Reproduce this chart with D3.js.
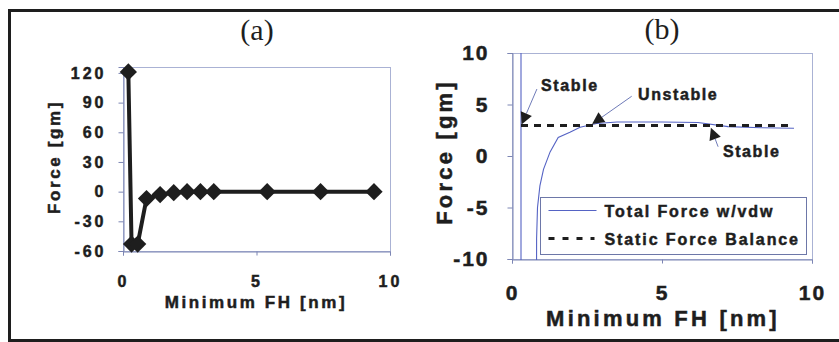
<!DOCTYPE html>
<html>
<head>
<meta charset="utf-8">
<script src="https://cdn.jsdelivr.net/npm/d3@7"></script>
<style>
  body { margin: 0; background: #fff; }
  svg { display: block; }
</style>
</head>
<body>
<div id="chart"></div>
<script>
// ---- panel (a): force vs minimum flying height, with markers
const aX = [0.2, 0.32, 0.55, 0.88, 1.39, 1.9, 2.4, 2.9, 3.4, 5.4, 7.4, 9.4];
const aY = [121, -53, -53, -7, -3, -1, 0, 0, 0, 0, 0, 0];
const aYTicks = [120, 90, 60, 30, 0, -30, -60];
const aXTicks = [0, 5, 10];

// ---- panel (b): total force with vdw and static force balance
const bTotalX = [0.3, 0.3, 0.8, 0.82, 0.85, 0.93, 1.05, 1.27, 1.54, 1.93, 2.27, 2.82, 3.5, 5.0, 6.2, 7.2, 8.3, 9.4];
const bTotalY = [40, -40, -40, -8, -5, -2.9, -1.3, 0.4, 1.8, 2.3, 2.8, 3.15, 3.3, 3.3, 3.25, 2.85, 2.75, 2.7];
const bStaticX = [0.3, 9.4];
const bStaticY = [2.95, 2.95];
const bYTicks = [10, 5, 0, -5, -10];
const bXTicks = [0, 5, 10];

// annotation labels: text anchor, leader start and arrow tip in data units
const notes = [
  { text: "Stable",   tx: 0.97, ty: 6.35, lx: 0.83, ly: 6.5, ax: 0.32, ay: 3.05 },
  { text: "Unstable", tx: 4.2,  ty: 5.45, lx: 3.99, ly: 5.8, ax: 2.67, ay: 3.1 },
  { text: "Stable",   tx: 7.03, ty: -0.1, lx: 6.87, ly: 0.9, ax: 6.63, ay: 2.75 }
];

const legendItems = ["Total Force w/vdw", "Static Force Balance"];

const W = 839, H = 342;
const FONT = '"Liberation Sans", Arial, sans-serif';
const AXIS = "#7d86b4";
const BORDER = "#aab2d4";
const INK = "#1e1e1e";

const svg = d3.select("#chart").append("svg")
  .attr("width", W).attr("height", H);

// outer frame (left, top, bottom)
const frame = svg.append("g").attr("stroke", INK).attr("stroke-width", 3);
frame.append("line").attr("x1", 9.5).attr("x2", 9.5).attr("y1", 9).attr("y2", 341);
frame.append("line").attr("x1", 8).attr("x2", W).attr("y1", 10.5).attr("y2", 10.5);
frame.append("line").attr("x1", 8).attr("x2", W).attr("y1", 340.5).attr("y2", 340.5);

// bold, slightly heavy text like the scanned figure
function heavy(sel, size, spacing) {
  return sel.style("font-family", FONT).style("font-weight", "bold")
    .style("font-size", size + "px").style("letter-spacing", spacing + "px")
    .attr("fill", INK).attr("stroke", INK).attr("stroke-width", 0.5);
}

function drawPanel(cfg) {
  const g = svg.append("g");
  const x = d3.scaleLinear().domain(cfg.xDomain).range([cfg.left, cfg.right]);
  const y = d3.scaleLinear().domain(cfg.yDomain).range([cfg.bottom, cfg.top]);

  // plot area border
  g.append("rect")
    .attr("x", cfg.left + 0.5).attr("y", cfg.top + 0.5)
    .attr("width", cfg.right - cfg.left).attr("height", cfg.bottom - cfg.top)
    .attr("fill", "none").attr("stroke", BORDER);

  const fmt = d => String(d);
  const yAxis = g.append("g")
    .attr("transform", `translate(${cfg.left + 0.5},0)`)
    .call(d3.axisLeft(y).tickValues(cfg.yTicks).tickFormat(fmt).tickSize(5).tickPadding(cfg.yPad));
  const xAxis = g.append("g")
    .attr("transform", `translate(0,${cfg.bottom + 0.5})`)
    .call(d3.axisBottom(x).tickValues(cfg.xTicks).tickFormat(fmt).tickSize(4).tickPadding(cfg.xPad));
  [yAxis, xAxis].forEach(ax => {
    ax.select(".domain").attr("stroke", AXIS);
    ax.selectAll(".tick line").attr("stroke", AXIS);
    heavy(ax.selectAll(".tick text"), cfg.tickSize, cfg.tickSpacing);
  });

  // titles
  g.append("text")
    .attr("x", cfg.titleX).attr("y", cfg.titleY)
    .attr("text-anchor", "middle")
    .style("font-family", '"Liberation Serif", "Times New Roman", serif')
    .style("font-size", "30px").attr("fill", INK)
    .text(cfg.title);
  heavy(g.append("text"), cfg.labelSize, cfg.labelSpacing)
    .attr("x", cfg.xLabelX).attr("y", cfg.xLabelY)
    .attr("text-anchor", "middle")
    .text("Minimum FH [nm]");
  heavy(g.append("text"), cfg.labelSize, cfg.labelSpacing)
    .attr("transform", `translate(${cfg.yLabelX},${cfg.yLabelY}) rotate(-90)`)
    .attr("text-anchor", "middle")
    .text("Force [gm]");

  const clipId = "clip-" + cfg.title.replace(/\W/g, "");
  svg.append("clipPath").attr("id", clipId)
    .append("rect")
    .attr("x", cfg.left).attr("y", cfg.top)
    .attr("width", cfg.right - cfg.left + 1).attr("height", cfg.bottom - cfg.top + 1);
  const plot = g.append("g").attr("clip-path", `url(#${clipId})`);
  return { g, plot, x, y };
}

// ---------- panel (a)
const pa = drawPanel({
  title: "(a)", titleX: 257, titleY: 40,
  left: 123, right: 390, top: 67, bottom: 251,
  xDomain: [0, 10], yDomain: [-60, 126],
  yTicks: aYTicks, xTicks: aXTicks,
  tickSize: 16, tickSpacing: 3, yPad: 12, xPad: 20,
  labelSize: 17, labelSpacing: 2.6,
  xLabelX: 256, xLabelY: 308, yLabelX: 60, yLabelY: 157
});
const aData = aX.map((v, i) => [v, aY[i]]);
pa.g.append("path")
  .datum(aData)
  .attr("fill", "none").attr("stroke", INK).attr("stroke-width", 4)
  .attr("stroke-linejoin", "round")
  .attr("d", d3.line().x(d => pa.x(d[0])).y(d => pa.y(d[1])));
pa.g.selectAll(".marker")
  .data(aData).join("path")
  .attr("class", "marker")
  .attr("transform", d => `translate(${pa.x(d[0])},${pa.y(d[1])})`)
  .attr("d", d3.symbol(d3.symbolDiamond2, 190))
  .attr("fill", INK);

// ---------- panel (b)
const pb = drawPanel({
  title: "(b)", titleX: 662, titleY: 39,
  left: 512, right: 812, top: 53, bottom: 259,
  xDomain: [0, 10], yDomain: [-10, 10],
  yTicks: bYTicks, xTicks: bXTicks,
  tickSize: 21, tickSpacing: 2, yPad: 18, xPad: 22,
  labelSize: 22, labelSpacing: 3.2,
  xLabelX: 663, xLabelY: 326, yLabelX: 452, yLabelY: 152
});
pb.plot.append("path")
  .datum(bTotalX.map((v, i) => [v, bTotalY[i]]))
  .attr("fill", "none").attr("stroke", "#5563c4").attr("stroke-width", 1.1)
  .attr("d", d3.line().x(d => pb.x(d[0])).y(d => pb.y(d[1])));
pb.plot.append("path")
  .datum(bStaticX.map((v, i) => [v, bStaticY[i]]))
  .attr("fill", "none").attr("stroke", INK).attr("stroke-width", 3)
  .attr("stroke-dasharray", "7,6")
  .attr("d", d3.line().x(d => pb.x(d[0])).y(d => pb.y(d[1])));

// annotations with leader line + arrowhead
notes.forEach(n => {
  const x0 = pb.x(n.lx), y0 = pb.y(n.ly), x1 = pb.x(n.ax), y1 = pb.y(n.ay);
  const ang = Math.atan2(y1 - y0, x1 - x0);
  const len = 12, half = 6;
  const bx = x1 - len * Math.cos(ang), by = y1 - len * Math.sin(ang);
  pb.g.append("line")
    .attr("x1", x0).attr("y1", y0).attr("x2", bx).attr("y2", by)
    .attr("stroke", "#6f7bb8").attr("stroke-width", 1);
  pb.g.append("path")
    .attr("d", `M${x1},${y1}L${bx + half * Math.sin(ang)},${by - half * Math.cos(ang)}L${bx - half * Math.sin(ang)},${by + half * Math.cos(ang)}Z`)
    .attr("fill", INK);
  heavy(pb.g.append("text"), 16, 1.6)
    .attr("x", pb.x(n.tx)).attr("y", pb.y(n.ty))
    .text(n.text);
});

// legend
const lg = pb.g.append("g").attr("transform", "translate(540.5,197.5)");
lg.append("rect").attr("width", 266).attr("height", 57)
  .attr("fill", "#fff").attr("stroke", "#6d77a8").attr("stroke-width", 1);
lg.append("line").attr("x1", 8).attr("x2", 56).attr("y1", 13).attr("y2", 13)
  .attr("stroke", "#5563c4").attr("stroke-width", 1.1);
lg.append("line").attr("x1", 8).attr("x2", 54).attr("y1", 41).attr("y2", 41)
  .attr("stroke", INK).attr("stroke-width", 3).attr("stroke-dasharray", "6,8");
heavy(lg.selectAll(".ltxt").data(legendItems).join("text"), 16, 1.9)
  .attr("class", "ltxt")
  .attr("x", 64).attr("y", (d, i) => 19 + i * 28)
  .text(d => d);
</script>
</body>
</html>
